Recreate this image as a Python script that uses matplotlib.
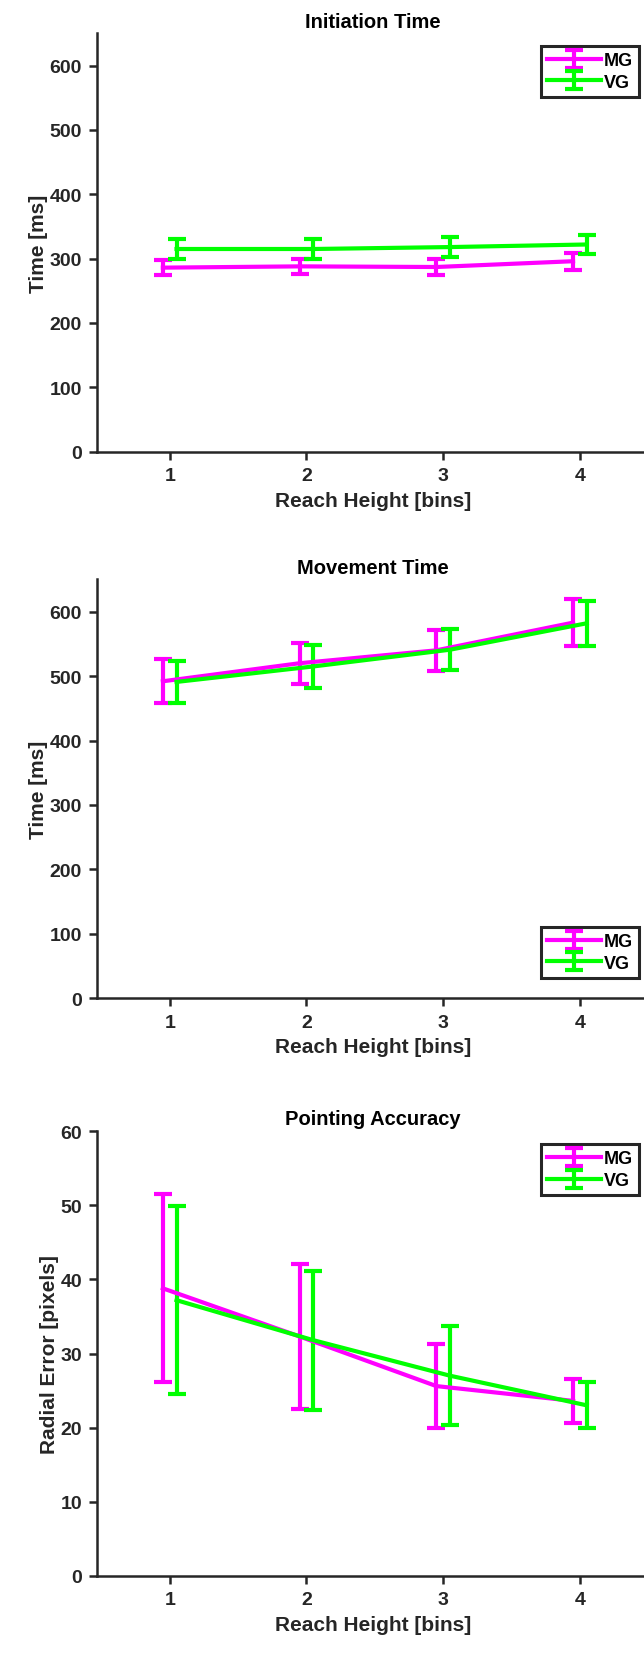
import numpy as np
import matplotlib.pyplot as plt

plt.rcParams['font.family'] = ['Liberation Sans', 'DejaVu Sans']
plt.rcParams['font.weight'] = 'bold'

# reach height bins
bins = np.array([1, 2, 3, 4])
groups = ['MG', 'VG']

# Initiation time [ms]
init_mg = [286, 288, 287, 296]
init_mg_err = [12, 12, 12, 13]
init_vg = [315, 315, 318, 322]
init_vg_err = [15, 16, 15, 15]

# Movement time [ms]
move_mg = [492, 520, 540, 583]
move_mg_err = [34, 32, 32, 36]
move_vg = [491, 515, 541, 582]
move_vg_err = [33, 33, 32, 35]

# Pointing accuracy, radial error [pixels]
acc_mg = [38.8, 32.3, 25.6, 23.6]
acc_mg_err = [12.7, 9.8, 5.7, 3.0]
acc_vg = [37.2, 31.8, 27.0, 23.0]
acc_vg_err = [12.7, 9.4, 6.7, 3.1]

colors = {'MG': '#ff00ff', 'VG': '#00ff00'}
offsets = {'MG': -0.05, 'VG': 0.05}
axcol = '#262626'

fig = plt.figure(figsize=(6.44, 16.58), dpi=100)

# title, ylabel, MG, VG, y top, y ticks, axes bottom/top (fig frac), legend loc, legend y
panels = [
    ('Initiation Time', 'Time [ms]', (init_mg, init_mg_err), (init_vg, init_vg_err),
     650, np.arange(0, 601, 100), (0.7270, 0.9792), 'upper right', 0.9717),
    ('Movement Time', 'Time [ms]', (move_mg, move_mg_err), (move_vg, move_vg_err),
     650, np.arange(0, 601, 100), (0.3973, 0.6499), 'lower right', 0.4095),
    ('Pointing Accuracy', 'Radial Error [pixels]', (acc_mg, acc_mg_err), (acc_vg, acc_vg_err),
     60, np.arange(0, 61, 10), (0.0491, 0.3170), 'upper right', 0.3094),
]

for title, ylab, mg, vg, ytop, yticks, (y0, y1), loc, legy in panels:
    ax = fig.add_axes([0.151, y0, 0.8556, y1 - y0])
    for name, (vals, errs) in zip(groups, [mg, vg]):
        ax.errorbar(bins + offsets[name], vals, yerr=errs, color=colors[name],
                    lw=3, elinewidth=3, capsize=6.5, capthick=3, label=name)
    ax.set_xlim(0.47, 4.5)
    ax.set_ylim(0, ytop)
    ax.set_xticks(bins)
    ax.set_yticks(yticks)
    for s in ['top', 'right']:
        ax.spines[s].set_visible(False)
    for s in ['left', 'bottom']:
        ax.spines[s].set_linewidth(1.8)
        ax.spines[s].set_color(axcol)
    ax.tick_params(direction='out', length=6, width=1.8, color=axcol,
                   labelsize=14, labelcolor=axcol, pad=5)
    ax.set_title(title, fontsize=14.5, fontweight='bold', color='black', pad=5)
    ax.set_xlabel('Reach Height [bins]', fontsize=15, fontweight='bold',
                  color=axcol, labelpad=5)
    ax.set_ylabel(ylab, fontsize=15, fontweight='bold', color=axcol, labelpad=1)
    leg = ax.legend(loc=loc, bbox_to_anchor=(0.993, legy), bbox_transform=fig.transFigure,
                    fancybox=False, fontsize=13, handlelength=3.0, handletextpad=0.15,
                    borderpad=0.35, labelspacing=0.25, borderaxespad=0)
    leg.get_frame().set_edgecolor(axcol)
    leg.get_frame().set_linewidth(2.2)
    leg.get_frame().set_alpha(1)

fig.savefig('out.png', dpi=100)
